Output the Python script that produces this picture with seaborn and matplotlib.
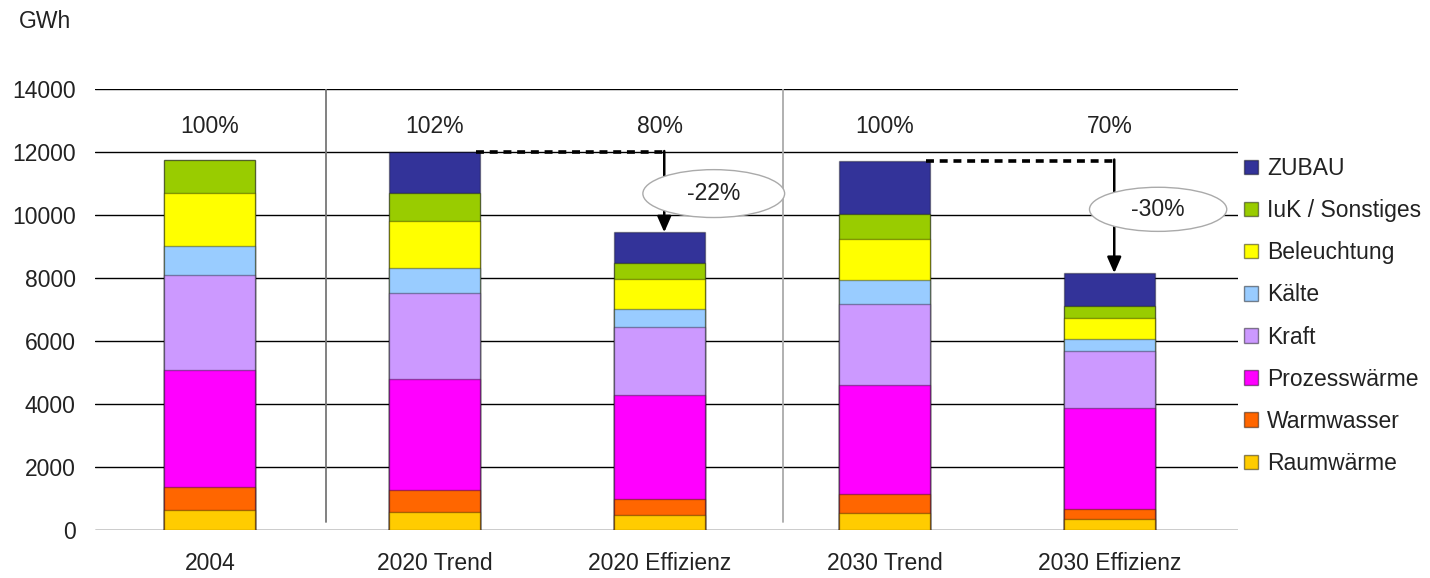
import numpy as np
import pandas as pd
import matplotlib
matplotlib.use("Agg")
import matplotlib.pyplot as plt
from matplotlib.patches import Patch, Ellipse
import seaborn as sns

categories = ["2004", "2020 Trend", "2020 Effizienz", "2030 Trend", "2030 Effizienz"]
raumwaerme = [650, 580, 475, 530, 360]
warmwasser = [720, 690, 495, 610, 315]
prozesswaerme = [3700, 3515, 3330, 3455, 3200]
kraft = [3030, 2745, 2145, 2590, 1800]
kaelte = [930, 780, 585, 760, 380]
beleuchtung = [1670, 1490, 950, 1280, 685]
iuk = [1050, 890, 490, 815, 380]
zubau = [0, 1310, 980, 1690, 1035]
percent_labels = ["100%", "102%", "80%", "100%", "70%"]
change_labels = ["-22%", "-30%"]
yticks = [0, 2000, 4000, 6000, 8000, 10000, 12000, 14000]

series_names = ["Raumwärme", "Warmwasser", "Prozesswärme", "Kraft", "Kälte",
                "Beleuchtung", "IuK / Sonstiges", "ZUBAU"]
series_vals = [raumwaerme, warmwasser, prozesswaerme, kraft, kaelte,
               beleuchtung, iuk, zubau]
colors = ["#FFCC00", "#FF6600", "#FF00FF", "#CC99FF", "#99CCFF",
          "#FFFF00", "#99CC00", "#333399"]

df = pd.DataFrame({n: v for n, v in zip(series_names, series_vals)}, index=categories)
cum = df.cumsum(axis=1)
totals = cum.iloc[:, -1]

sns.set_theme(style="white")
plt.rcParams["font.family"] = ["Liberation Sans", "DejaVu Sans"]
text_color = "#222222"
fs = 16.5

fig = plt.figure(figsize=(14.3, 5.78), dpi=100)
ax = fig.add_axes([95 / 1430, 1 - 530 / 578, (1238 - 95) / 1430, (530 - 89) / 578])

# Gridlines
for t in yticks:
    ax.axhline(t, color="black", lw=1.0, zorder=0)

# Stacked bars (cumulative overlay, top layer first)
for j in range(len(series_names) - 1, -1, -1):
    d = pd.DataFrame({"cat": categories, "val": cum.iloc[:, j].values})
    sns.barplot(data=d, x="cat", y="val", color=colors[j], width=0.405,
                edgecolor=(0, 0, 0, 0.35), linewidth=1.0, saturation=1,
                ax=ax, zorder=2, errorbar=None)

ax.set_xlim(-0.51, 4.57)
ax.set_ylim(0, 14000)
ax.set_yticks(yticks)
ax.set_yticklabels([str(t) for t in yticks])
ax.set_xlabel("")
ax.set_ylabel("")
for s in ax.spines.values():
    s.set_visible(False)
ax.tick_params(axis="y", length=0, pad=14, labelsize=fs, colors=text_color)
ax.tick_params(axis="x", length=0, pad=16, labelsize=fs, colors=text_color)

# Separators
for xs, c in [(0.515, "#777777"), (2.55, "#aaaaaa")]:
    ax.plot([xs, xs], [250, 14000], color=c, lw=1.3, zorder=1)

# Percent labels
for i, p in enumerate(percent_labels):
    ax.text(i, 12800, p, ha="center", va="center", fontsize=fs, color=text_color)

# Reduction arrows
bw = 0.405
for k, (a, b) in enumerate([(1, 2), (3, 4)]):
    ytop = totals.iloc[a]
    ax.plot([a + bw / 2 - 0.02, b + 0.02], [ytop, ytop], color="black", lw=2.6,
            ls=(0, (2.2, 1.6)), zorder=3)
    ax.annotate("", xy=(b + 0.02, totals.iloc[b]), xytext=(b + 0.02, ytop + 30),
                arrowprops=dict(arrowstyle="-|>,head_length=0.8,head_width=0.35",
                                color="black", lw=1.8, shrinkA=0, shrinkB=0),
                zorder=4)
    ex = b + (0.24 if k == 0 else 0.215)
    ey = ytop - (1320 if k == 0 else 1550)
    ew = 0.63 if k == 0 else 0.61
    eh = 1520 if k == 0 else 1400
    ax.add_patch(Ellipse((ex, ey), ew, eh, facecolor="white", edgecolor="#aaaaaa",
                         lw=1.0, zorder=5))
    ax.text(ex, ey, change_labels[k], ha="center", va="center", fontsize=fs,
            color=text_color, zorder=6)

# GWh unit label
fig.text(45 / 1430, 1 - 22 / 578, "GWh", ha="center", va="center", fontsize=fs,
         color=text_color)

# Legend
handles = [Patch(facecolor=colors[j], edgecolor=(0, 0, 0, 0.45), lw=1.0,
                 label=series_names[j]) for j in range(len(series_names) - 1, -1, -1)]
fig.legend(handles=handles, loc="upper left", bbox_to_anchor=(1244 / 1430, 1 - 157 / 578),
           frameon=False, fontsize=fs, labelspacing=0.835, handlelength=0.6,
           handleheight=0.6, handletextpad=0.4, borderpad=0, borderaxespad=0,
           labelcolor=text_color)

fig.savefig("out.png", dpi=100)
